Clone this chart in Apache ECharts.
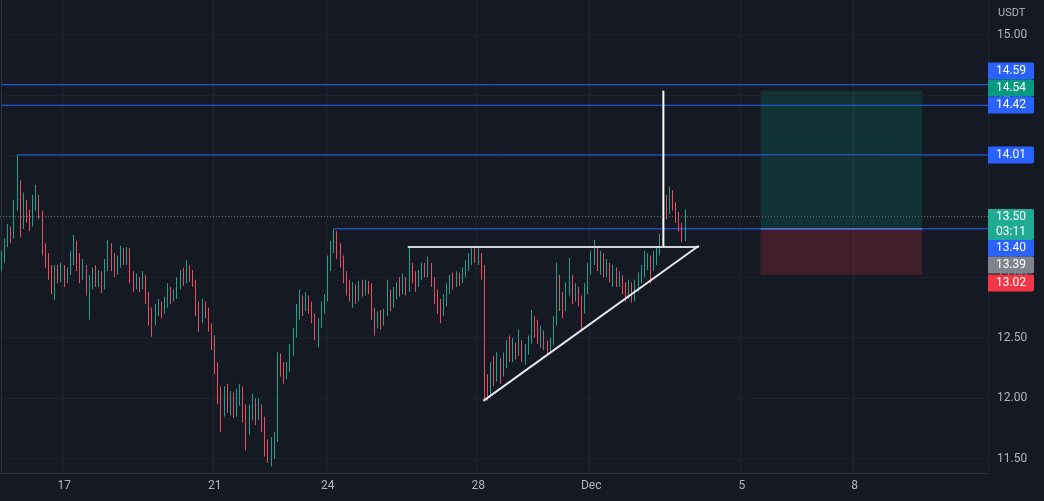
<!DOCTYPE html>
<html><head><meta charset="utf-8">
<script src="https://cdn.jsdelivr.net/npm/echarts@6/dist/echarts.min.js"></script>
<style>html,body{margin:0;padding:0;background:#151924;}#c{width:1044px;height:501px;}</style>
</head><body><div id="c"></div>
<script>
// ---- data (2h candles, open = previous close) ----
const firstOpen = 13.10;
const closes = [13.15,13.28,13.38,13.33,13.58,13.78,13.45,13.62,13.52,13.45,
13.62,13.66,13.55,13.25,13.15,13.05,12.95,13.05,13.00,13.08,
12.98,13.05,13.15,13.25,13.18,13.05,13.08,12.92,12.95,13.05,
12.98,13.02,12.92,13.10,13.22,13.15,13.05,13.12,13.20,13.15,
13.22,13.00,12.92,12.98,12.95,13.00,12.85,12.70,12.62,12.72,
12.78,12.72,12.80,12.88,12.83,12.86,12.95,13.00,12.98,13.08,
13.02,12.98,12.75,12.70,12.78,12.72,12.60,12.50,12.30,12.05,
11.90,12.05,11.95,12.02,11.92,11.98,12.08,11.85,11.75,11.90,
11.98,11.88,11.95,11.80,11.60,11.55,11.62,11.68,12.35,12.25,
12.18,12.26,12.38,12.52,12.70,12.80,12.75,12.82,12.75,12.68,
12.55,12.62,12.75,12.82,13.10,13.25,13.32,13.22,13.15,13.00,
12.92,12.85,12.90,12.82,12.92,12.88,12.93,12.90,12.72,12.62,
12.68,12.62,12.70,12.82,12.78,12.88,12.92,12.88,12.95,12.90,
13.12,13.00,12.95,13.02,13.08,13.05,13.10,12.98,12.85,12.78,
12.72,12.80,12.90,12.96,12.95,13.00,12.98,13.05,13.10,13.15,
13.22,13.18,13.20,13.05,12.15,12.05,12.22,12.18,12.30,12.22,
12.30,12.40,12.35,12.42,12.38,12.45,12.35,12.40,12.48,12.62,
12.58,12.50,12.55,12.45,12.40,12.46,12.62,12.95,12.80,12.75,
12.90,13.00,12.85,12.90,12.82,12.75,12.88,13.05,13.15,13.20,
13.10,13.18,13.05,13.10,13.02,13.06,12.98,13.00,12.92,12.88,
12.95,12.85,12.92,12.98,13.05,13.12,13.15,13.08,13.18,13.22,
13.30,13.64,13.58,13.70,13.62,13.50,13.42,13.32,13.50];
const highs = [13.22,13.32,13.44,13.42,13.64,14.01,13.80,13.70,13.64,13.56,
13.68,13.76,13.68,13.55,13.28,13.20,13.10,13.10,13.10,13.12,
13.10,13.08,13.22,13.35,13.30,13.20,13.15,13.10,13.02,13.08,
13.10,13.06,13.05,13.15,13.31,13.28,13.20,13.18,13.26,13.24,
13.25,13.24,13.05,13.03,13.00,13.05,13.02,12.88,12.75,12.78,
12.82,12.80,12.84,12.95,12.92,12.90,13.00,13.06,13.08,13.14,
13.10,13.06,12.98,12.80,12.82,12.80,12.75,12.62,12.52,12.30,
12.10,12.10,12.12,12.06,12.05,12.08,12.12,12.10,11.95,11.95,
12.04,12.00,12.00,11.95,11.85,11.66,11.68,11.72,12.38,12.37,
12.30,12.30,12.45,12.58,12.78,12.90,12.85,12.88,12.85,12.80,
12.70,12.66,12.80,12.86,13.18,13.30,13.40,13.38,13.28,13.18,
13.05,12.98,12.96,12.94,12.97,12.98,12.98,12.97,12.95,12.75,
12.72,12.73,12.74,12.98,12.90,12.92,12.96,13.00,13.03,13.00,
13.25,13.12,13.05,13.06,13.12,13.12,13.17,13.12,13.00,12.90,
12.82,12.86,12.95,13.02,13.04,13.05,13.04,13.08,13.14,13.20,
13.25,13.25,13.25,13.20,13.10,12.20,12.30,12.35,12.38,12.33,
12.38,12.48,12.52,12.50,12.46,12.57,12.48,12.45,12.52,12.73,
12.68,12.65,12.60,12.56,12.48,12.50,12.68,13.12,13.02,12.88,
12.96,13.16,13.02,12.95,12.92,12.85,12.95,13.12,13.22,13.31,
13.24,13.22,13.20,13.15,13.12,13.10,13.08,13.05,13.02,12.96,
12.98,12.96,12.98,13.04,13.10,13.22,13.20,13.18,13.22,13.26,
13.36,14.54,13.68,13.75,13.72,13.62,13.54,13.45,13.56];
const lows = [13.05,13.12,13.25,13.28,13.32,13.55,13.33,13.40,13.45,13.38,
13.42,13.55,13.48,13.18,13.08,12.98,12.86,12.81,12.95,12.96,
12.92,12.95,13.02,13.10,13.05,12.95,12.98,12.85,12.65,12.90,
12.92,12.92,12.87,12.90,13.05,13.05,13.00,13.02,13.08,13.10,
13.10,12.95,12.88,12.90,12.88,12.90,12.78,12.60,12.51,12.60,
12.68,12.66,12.70,12.75,12.78,12.80,12.82,12.90,12.93,12.95,
12.96,12.92,12.68,12.55,12.62,12.66,12.55,12.40,12.20,11.95,
11.72,11.85,11.88,11.86,11.84,11.85,11.94,11.80,11.57,11.70,
11.82,11.78,11.82,11.72,11.52,11.47,11.44,11.50,11.64,12.18,
12.12,12.16,12.22,12.35,12.50,12.65,12.68,12.72,12.70,12.62,
12.48,12.42,12.58,12.70,12.80,13.05,13.20,13.15,13.08,12.95,
12.85,12.80,12.75,12.78,12.80,12.84,12.85,12.86,12.65,12.52,
12.58,12.57,12.60,12.68,12.72,12.75,12.82,12.84,12.86,12.85,
12.88,12.95,12.88,12.92,12.98,13.00,13.00,12.92,12.78,12.70,
12.62,12.68,12.76,12.86,12.90,12.92,12.93,12.95,13.00,13.05,
13.10,13.12,13.10,12.98,11.98,11.98,12.02,12.10,12.14,12.12,
12.18,12.25,12.30,12.30,12.32,12.35,12.30,12.28,12.36,12.45,
12.50,12.45,12.42,12.40,12.36,12.38,12.44,12.60,12.72,12.66,
12.72,12.85,12.78,12.80,12.76,12.57,12.70,12.86,13.02,13.10,
13.05,13.02,13.00,13.00,12.96,12.92,12.92,12.92,12.86,12.80,
12.82,12.79,12.80,12.88,12.95,13.00,13.06,12.95,13.05,13.10,
13.18,13.26,13.48,13.52,13.55,13.45,13.38,13.29,13.30];

const slotCount = 315;                       // 2h slots on the time axis
const tickIndex = [20, 68, 104, 152, 188, 236, 272];
const tickText  = ['17', '21', '24', '28', 'Dec', '5', '8'];
const priceTicks = [11.5, 12, 12.5, 13, 13.5, 14, 14.5, 15];
const levelPrices = [14.59, 14.42, 14.01, 13.40];
const levelStarts = [0, 0, 5, 106];
const lastPrice = 13.50;
const flatTop = 13.25, flatFrom = 129.5, flatTo = 222.3;
const risingFrom = [153.6, 11.98], risingTo = [222.3, 13.26];
const spikeIndex = 211, spikeTop = 14.54, spikeBottom = 13.25;
const posFrom = 242, posTo = 293.5, posTarget = 14.54, posEntry = 13.40, posStop = 13.02;
const tags = [
  {t:'14.59', c:'#2962ff', y:71}, {t:'14.54', c:'#089981', y:88}, {t:'14.42', c:'#2962ff', y:105},
  {t:'14.01', c:'#2962ff', y:155}, {t:'13.40', c:'#2962ff', y:248}, {t:'13.39', c:'#80838e', y:265},
  {t:'13.02', c:'#f23645', y:283}
];

// ---- build ----
const candles = closes.map((c, i) => [i === 0 ? firstOpen : closes[i - 1], c, lows[i], highs[i]]);
const cats = Array.from({length: slotCount}, (_, i) => String(i));
const X0 = -0.5, X1 = slotCount - 0.5;
const seg = (name, pts, color, width, type, z) => ({
  name, type: 'line', xAxisIndex: 1, yAxisIndex: 0, data: pts, symbol: 'none', silent: true,
  lineStyle: {color, width, type: type || 'solid'}, z: z || 3, animation: false
});
const series = [];
priceTicks.forEach(p => series.push(seg('g' + p, [[X0, p], [X1, p]], '#1f2330', 1, 'solid', 0)));
series.push({
  type: 'line', xAxisIndex: 1, data: [], silent: true, z: 1,
  markArea: {silent: true, data: [
    [{coord: [posFrom, posTarget], itemStyle: {color: 'rgba(8,153,129,0.2)'}}, {coord: [posTo, posEntry]}],
    [{coord: [posFrom, posEntry], itemStyle: {color: 'rgba(242,54,69,0.2)'}}, {coord: [posTo, posStop]}]
  ]}
});
series.push(seg('entry', [[posFrom, posEntry], [posTo, posEntry]], '#8a8d97', 1.5, 'solid', 2));
levelPrices.forEach((p, k) => series.push(seg('lvl' + p, [[levelStarts[k], p], [X1, p]], '#2962ff', 1, 'solid', 3)));
series.push(seg('last', [[X0, lastPrice], [X1, lastPrice]], 'rgba(170,175,185,0.55)', 1, [1, 2], 3));
series.push({
  type: 'candlestick', xAxisIndex: 0, yAxisIndex: 0, data: candles, barWidth: 1, z: 4,
  itemStyle: {color: '#22ab94', color0: '#f7525f', borderColor: '#22ab94', borderColor0: '#f7525f', borderWidth: 1, opacity: 0.92},
  animation: false
});
series.push(seg('spike', [[spikeIndex, spikeTop], [spikeIndex, spikeBottom]], '#ffffff', 2, 'solid', 5));
series.push(seg('flat', [[flatFrom, flatTop], [flatTo, flatTop]], '#d1d4dc', 2, 'solid', 5));
series.push(seg('rise', [risingFrom, risingTo], '#e6e8ee', 2, 'solid', 5));

const graphic = [{type: 'text', left: 998, top: 8, style: {text: 'USDT', fill: '#b2b5be', font: '11px Roboto'}, z: 10}];
tags.forEach(g => {
  graphic.push({type: 'rect', shape: {x: 988, y: g.y - 8.5, width: 46, height: 17, r: [0, 2, 2, 0]}, style: {fill: g.c}, z: 10});
  graphic.push({type: 'text', x: 1011, y: g.y, style: {text: g.t, fill: '#ffffff', font: '12px Roboto', align: 'center', verticalAlign: 'middle'}, z: 11});
});
graphic.push({type: 'rect', shape: {x: 988, y: 209, width: 46, height: 31, r: [0, 2, 2, 0]}, style: {fill: '#22ab94'}, z: 10});
graphic.push({type: 'text', x: 1011, y: 217, style: {text: '13.50', fill: '#ffffff', font: '12px Roboto', align: 'center', verticalAlign: 'middle'}, z: 11});
graphic.push({type: 'text', x: 1011, y: 232, style: {text: '03:11', fill: '#ffffff', font: '12px Roboto', align: 'center', verticalAlign: 'middle'}, z: 11});

const chart = echarts.init(document.getElementById('c'), null, {renderer: 'canvas'});
chart.setOption({
  backgroundColor: '#151924',
  animation: false,
  grid: {left: -1, right: 56, top: 0, bottom: 28, containLabel: false},
  xAxis: [{
    type: 'category', data: cats, boundaryGap: true,
    axisLine: {show: true, lineStyle: {color: '#2a2e39'}}, axisTick: {show: false},
    axisLabel: {interval: (i) => tickIndex.includes(i), formatter: (v, i) => tickText[tickIndex.indexOf(Number(v))] || '',
      color: '#b2b5be', fontSize: 12, fontFamily: 'Roboto', margin: 7},
    splitLine: {show: true, interval: (i) => tickIndex.includes(i), lineStyle: {color: '#1f2330'}}
  }, {
    type: 'value', min: X0, max: X1, show: false
  }],
  yAxis: [{
    type: 'value', position: 'right', min: 11.3844, max: 15.2889, scale: true,
    axisLine: {show: true, lineStyle: {color: '#2a2e39'}}, axisTick: {show: false},
    splitLine: {show: false},
    axisLabel: {customValues: priceTicks, formatter: v => v.toFixed(2), color: '#b2b5be', fontSize: 12, fontFamily: 'Roboto', margin: 9, padding: [3, 0, 0, 0]}
  }],
  graphic,
  series
});
</script></body></html>
